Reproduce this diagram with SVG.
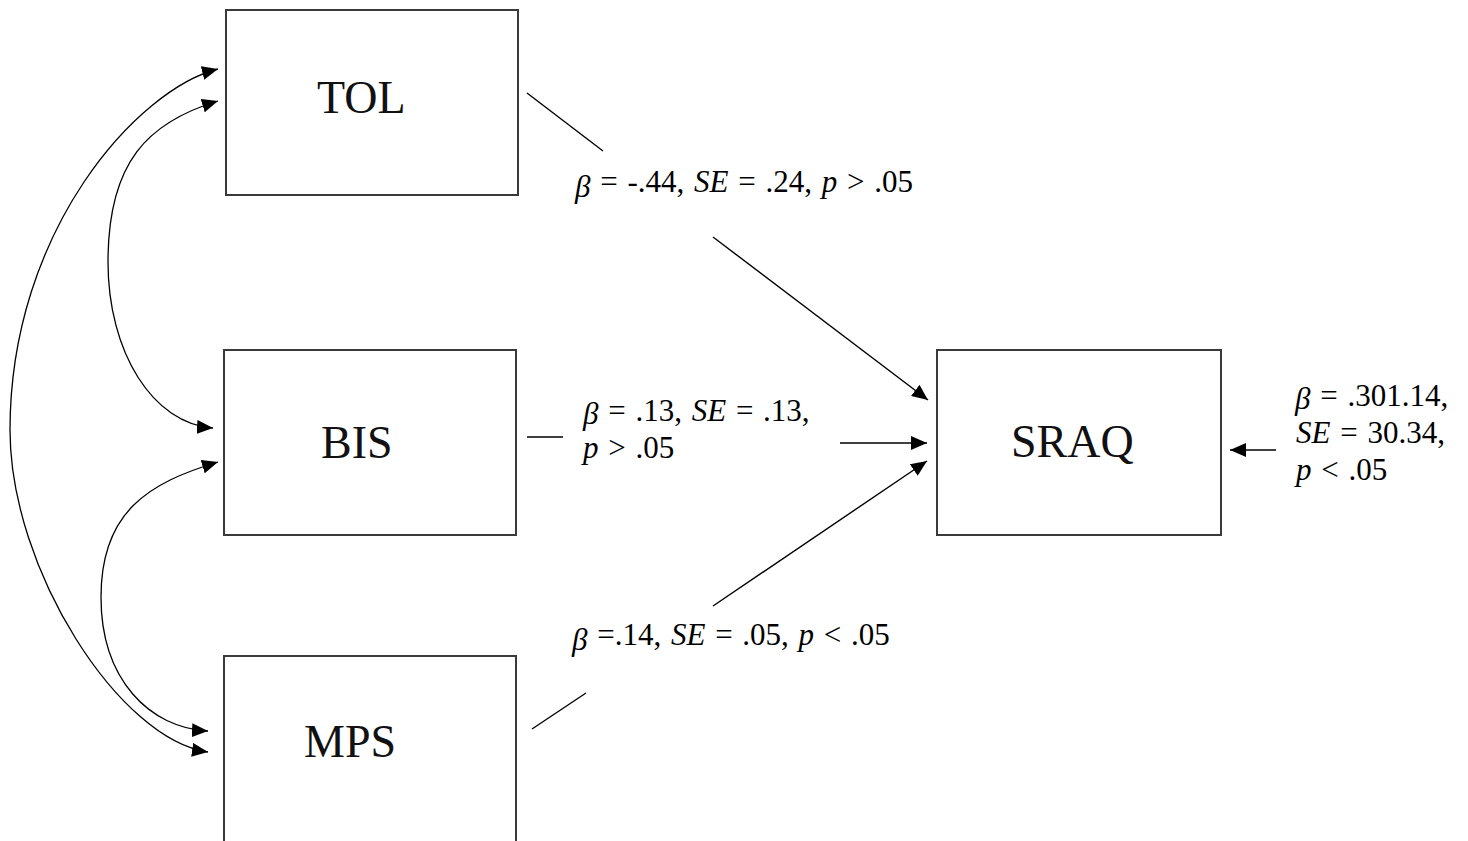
<svg xmlns="http://www.w3.org/2000/svg" width="1468" height="841" viewBox="0 0 1468 841">
  <style>
    .box { fill: #ffffff; stroke: #3a3a3a; stroke-width: 2; }
    .node-label { font-family: "Liberation Serif", "Times New Roman", serif; font-size: 46px; fill: #111111; }
    .coef { font-family: "Liberation Serif", "Times New Roman", serif; font-size: 31px; word-spacing: 2px; fill: #000000; }
    .it { font-style: italic; }
    .path { fill: none; stroke: #000000; stroke-width: 1.4; }
    .cov { fill: none; stroke: #000000; stroke-width: 1.3; }
  </style>
  <defs>
    <marker id="arrow" markerUnits="userSpaceOnUse" markerWidth="17" markerHeight="14" refX="16" refY="7" orient="auto-start-reverse">
      <path d="M0,0 L16,7 L0,14 z" fill="#000000"/>
    </marker>
  </defs>
  <rect width="1468" height="841" fill="#ffffff"/>

  <!-- predictor and outcome boxes -->
  <g id="node-tol">
    <rect class="box" x="226" y="10" width="292" height="185"/>
    <text class="node-label" x="317" y="113">TOL</text>
  </g>
  <g id="node-bis">
    <rect class="box" x="224" y="350" width="292" height="185"/>
    <text class="node-label" x="321" y="458">BIS</text>
  </g>
  <g id="node-mps">
    <rect class="box" x="224" y="656" width="292" height="200"/>
    <text class="node-label" x="304" y="757">MPS</text>
  </g>
  <g id="node-sraq">
    <rect class="box" x="937" y="350" width="284" height="185"/>
    <text class="node-label" x="1011" y="457">SRAQ</text>
  </g>

  <!-- covariances and regression paths -->
  <g id="connectors">
    <path class="cov" d="M218,69 C138,89 10,230 10,430 C10,570 120,740 208,752" marker-start="url(#arrow)" marker-end="url(#arrow)"/>
    <path class="cov" d="M218,101 C148,122 108,162 108,262 C108,352 153,424 213,428" marker-start="url(#arrow)" marker-end="url(#arrow)"/>
    <path class="cov" d="M218,462 C148,483 101,512 101,597 C101,680 150,728 208,731" marker-start="url(#arrow)" marker-end="url(#arrow)"/>

    <line class="path" x1="527" y1="93" x2="603" y2="151"/>
    <line class="path" x1="713" y1="237" x2="928" y2="400" marker-end="url(#arrow)"/>

    <line class="path" x1="527" y1="437" x2="563" y2="437"/>
    <line class="path" x1="840" y1="443" x2="927" y2="443" marker-end="url(#arrow)"/>

    <line class="path" x1="532" y1="729" x2="586" y2="693"/>
    <line class="path" x1="713" y1="606" x2="927" y2="461" marker-end="url(#arrow)"/>

    <line class="path" x1="1276" y1="450" x2="1230" y2="450" marker-end="url(#arrow)"/>
  </g>

  <!-- path coefficients -->
  <g id="coef-tol">
    <text class="coef" x="575" y="192"><tspan class="it" dy="5">β</tspan><tspan dy="-5"> = -.44, </tspan><tspan class="it">SE</tspan> = .24, <tspan class="it">p</tspan> &gt; .05</text>
  </g>
  <g id="coef-bis">
    <text class="coef" x="583" y="421"><tspan class="it" dy="3">β</tspan><tspan dy="-3"> = .13, </tspan><tspan class="it">SE</tspan> = .13,</text>
    <text class="coef" x="583" y="458"><tspan class="it">p</tspan> &gt; .05</text>
  </g>
  <g id="coef-mps">
    <text class="coef" x="572" y="645"><tspan class="it" dy="5">β</tspan><tspan dy="-5"> =.14, </tspan><tspan class="it">SE</tspan> = .05, <tspan class="it">p</tspan> &lt; .05</text>
  </g>
  <g id="coef-residual">
    <text class="coef" x="1295" y="406"><tspan class="it" dy="3">β</tspan><tspan dy="-3"> = .301.14,</tspan></text>
    <text class="coef" x="1296" y="443"><tspan class="it">SE</tspan> = 30.34,</text>
    <text class="coef" x="1296" y="480"><tspan class="it">p</tspan> &lt; .05</text>
  </g>
</svg>
